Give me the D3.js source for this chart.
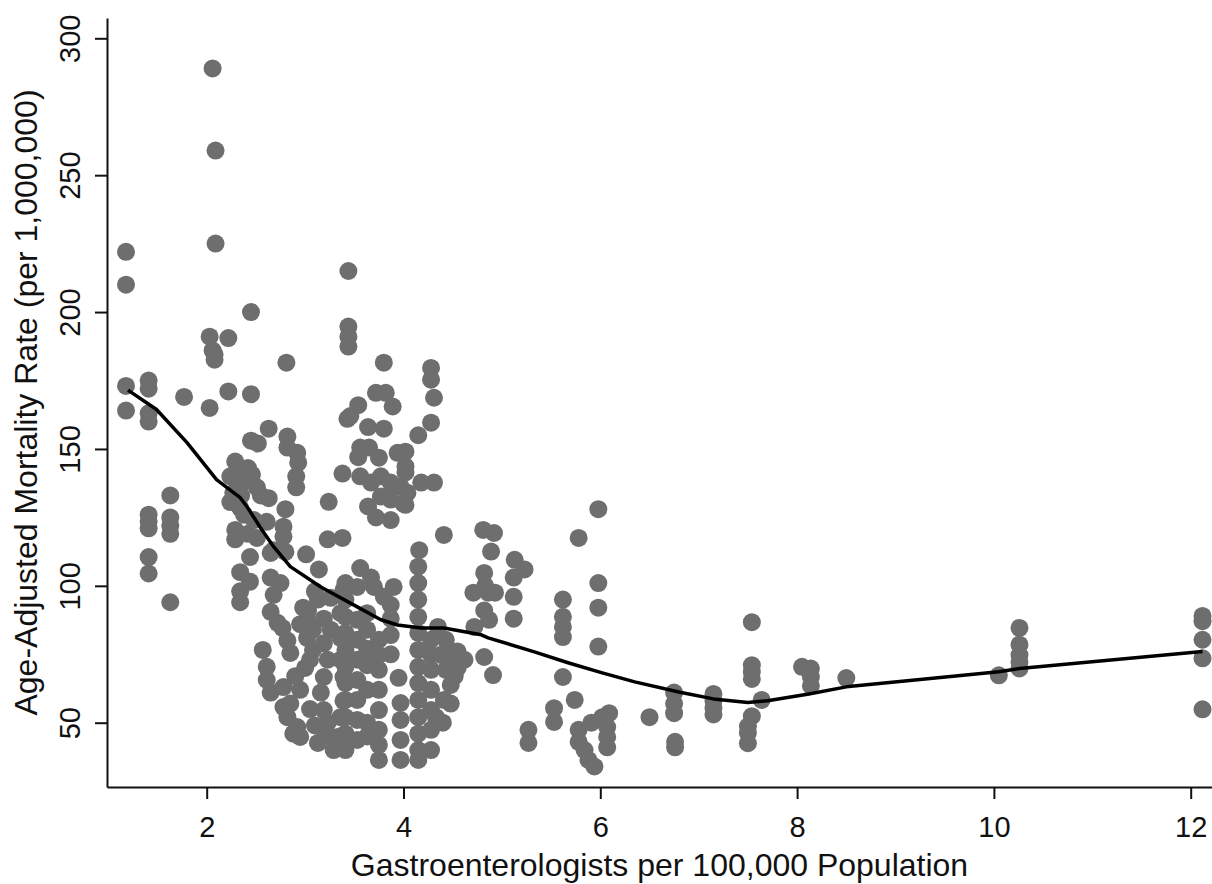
<!DOCTYPE html>
<html>
<head>
<meta charset="utf-8">
<script src="https://cdn.jsdelivr.net/npm/d3@7"></script>
<style>
  body { margin: 0; background: #fff; }
  svg { display: block; font-family: "Liberation Sans", Arial, sans-serif; }
</style>
</head>
<body>
<div id="chart"></div>
<script>
const width = 1212, height = 884;

// gastroenterologists per 100,000 (x) and age-adjusted mortality per 1,000,000 (y)
const gastroRate = [
  1.18,1.18,1.18,1.18,
  1.41,1.41,1.41,1.41,1.41,1.41,1.41,1.41,1.41,
  1.63,1.63,1.63,1.63,1.63, 1.77,
  2.06,2.09,2.09,2.03,2.03,2.06,2.08,2.08,2.22,2.22,2.45,2.45,2.81,
  2.63,2.45,2.52,2.82,2.82,2.92,2.93,2.91,2.91,2.29,2.29,2.29,2.24,2.24,2.46,2.37,2.51,2.51,
  2.63,2.34,2.80,2.61,2.78,2.78,2.42,2.44,2.68,3.01,3.24,3.38,3.38,3.43,3.23,2.27,2.35,2.42,
  2.31,2.38,2.48,2.55,
  2.65,2.80,2.34,2.34,2.34,2.44,2.65,2.65,2.75,2.68,2.72,2.77,3.14,3.03,3.13,3.26,3.26,3.39,
  3.02,3.19,3.36,2.57,2.61,2.61,2.65,2.82,2.85,2.85,2.78,3.02,3.05,3.08,3.19,3.19,3.19,
  3.23,3.23,3.16,3.26,3.29,2.78,2.82,2.92,2.95,3.36,3.36,3.36,3.39,3.39,3.33,2.88,3.13,
  2.95,2.98,3.08,3.10,2.90,2.95,3.05,3.10,3.20,3.00,
  3.44,3.44,3.44,3.44,3.80,4.28,4.28,4.31,3.72,3.82,3.54,3.46,3.89,3.64,3.80,4.28,4.15,
  3.56,3.65,3.54,3.75,3.94,4.02,4.02,4.02,3.56,3.67,3.77,3.77,3.87,3.87,3.87,3.97,4.04,
  4.00,3.64,3.72,4.02,4.18,4.31,4.41,4.16,4.81,4.92,4.89,
  3.41,3.41,3.41,3.41,3.41,3.41,3.41,3.41,3.41,3.41,3.41,
  3.53,3.53,3.53,3.53,3.53,3.53,3.53,3.53, 3.56,3.67,3.70,3.90,3.80,
  3.63,3.63,3.63,3.63,3.63,3.63,3.63,
  3.75,3.75,3.75,3.75,3.75,3.75,3.75,3.75, 3.95, 3.87,3.87,3.87,3.87,
  4.15,4.15,4.15,4.15,4.15,4.15,4.15,4.15,4.15,4.15,4.15,4.15,4.15,
  3.97,3.97,3.97,3.97, 4.28,4.28,4.28,4.28,4.28,4.28,4.28,
  4.38,4.43,4.43,4.48,4.48,4.41,4.55,4.55,4.62,
  4.35,4.45,4.50,4.40,4.33,4.52,
  4.71,4.72,4.86,4.82,4.82,4.82,4.91,4.83,4.93,4.87,
  5.13,5.23,5.12,5.12,5.12,
  5.27,5.27,5.53,5.53,5.62,5.62,5.62,5.62,5.62,5.74,5.78,5.98,5.98,5.98,5.98,
  5.78,5.78,5.84,5.88,5.94,6.02,6.09,6.07,6.07,6.07,5.91,
  6.50,6.75,6.75,6.75,6.76,6.76,7.15,7.15,7.15,7.15,
  7.54,7.54,7.54,7.54,7.54,7.64,7.50,7.50,7.50,8.05,8.14,8.14,8.14,8.50,
  10.05,10.26,10.26,10.26,10.26,10.26,
  12.12,12.12,12.12,12.12,12.12
];
const mortalityRate = [
  222,210,173,164,
  175,172,163,160,126,123.5,121,110.5,104.5,
  133,125,122,119,94, 169,
  289,259,225,191,165,186,182.6,184.5,190.5,171,200,170,181.5,
  157.4,153,152,154.5,150.5,148.6,145,140,136,145.4,120.4,117,140,130.6,140.6,138,136,117.5,
  132,128.5,128,123.4,121.6,118,119,110.5,113,111.5,130.7,141,117.5,161,117,134,133,143,
  141,126,124,133,
  112,112.4,105,98,94,101.5,103,90.5,101,96.7,86.5,84.6,106,91,95,95.6,84,98.5,
  87.6,88,90,76.6,70.4,65.6,61,80,75.5,57,63,81,73,76.6,79,66.7,54.6,
  73,50,61,44.8,40,55.7,52,48.4,44.8,81,73,52,66.7,58,44.8,46,42.6,
  86,92,84,98,67,62,55,49,46,70,
  215,194.7,191,187.4,181.5,179.6,175.3,168.7,170.5,170.5,166,162,165.5,158,157.4,159.6,155,
  150.5,150.5,147,146.8,148.6,149,143.6,141.4,140,137.7,140,132.6,137.7,131.5,124,136.2,134,
  130,129,125,129.6,137.7,137.7,118.6,113,120.4,119.3,112.5,
  101,95,88.7,82.8,76.6,70.4,64.5,58.3,52,46,40,
  99.6,87.6,80.3,73,65.6,58.3,51,43.7, 106.5,103,99.6,99.6,96,
  90,84,77,71,62,50,45,
  80.3,74.8,69.3,62,54.6,47.4,41.9,36.4, 66.4, 93,88,82,75,
  107,101,95,88.7,82.8,76.6,70.4,64.5,58.3,52,46,40,36.4,
  57.2,51,43.7,36.4, 80.3,74.8,69.3,62,54.6,47.4,40,
  74.8,69.3,80.3,63.8,57,58.3,76,70,73,
  85,77,72,50,52,67,
  97.5,85,97.5,104.7,91,74,67.4,100,97.5,87.6,
  109.5,106,103,96,88,
  47.4,42.6,55.3,50.3,95,88.7,85,81.3,66.7,58.3,117.5,128,101,92,77.8,
  47.4,43,40,36.4,34,52,53.5,48.4,44.8,41,50,
  52,61,57,53.5,43,41,60.5,58,55.5,53,
  86.7,71,68.5,66,52.4,58.3,48.7,46.2,42.5,70.4,69.8,66.7,63.5,66.3,
  67.3,84.6,78.5,74.7,72.2,69.8,
  89,87.1,80.3,73.5,54.9
];

// lowess smoother
const lowessX = [1.20,1.49,1.80,2.10,2.34,2.41,2.54,2.68,2.85,3.16,3.53,3.77,3.94,4.18,4.41,4.79,4.86,5.33,5.68,6.02,6.35,6.81,7.15,7.50,7.70,8.12,8.50,10.05,10.26,12.12];
const lowessY = [171.5,164.4,152.3,138.8,132.2,128.9,121.6,114.3,107,99.6,92.3,87.6,85.7,84.6,84.6,82.1,81,75.9,71.8,68.2,64.9,61.1,58.7,57.4,58,60.5,63.1,68.6,69.8,76];

const xTicks = [2, 4, 6, 8, 10, 12];
const yTicks = [50, 100, 150, 200, 250, 300];

const svg = d3.select("#chart").append("svg")
  .attr("width", width)
  .attr("height", height);

const plotLeft = 107, plotRight = 1212, plotTop = 18, plotBottom = 787;

const x = d3.scaleLinear()
  .domain([(plotLeft - 9.9) / 98.4, (plotRight - 9.9) / 98.4])
  .range([plotLeft, plotRight]);
const y = d3.scaleLinear()
  .domain([50 - (plotBottom - 722.7) / 2.738, 300 + (38.3 - plotTop) / 2.738])
  .range([plotBottom, plotTop]);

// points
const data = gastroRate.map((g, i) => ({g: g, m: mortalityRate[i]}));
svg.append("g")
  .selectAll("circle")
  .data(data)
  .enter().append("circle")
    .attr("cx", d => x(d.g))
    .attr("cy", d => y(d.m))
    .attr("r", 9)
    .attr("fill", "#6e6e6e");

// smoother line
const line = d3.line()
  .x((d, i) => x(lowessX[i]))
  .y(d => y(d));
svg.append("path")
  .attr("d", line(lowessY))
  .attr("fill", "none")
  .attr("stroke", "#000")
  .attr("stroke-width", 3.5)
  .attr("stroke-linejoin", "round");

// axes
const xAxis = svg.append("g")
  .attr("transform", `translate(0, ${plotBottom})`)
  .call(d3.axisBottom(x).tickValues(xTicks).tickSize(12).tickSizeOuter(0));
const yAxis = svg.append("g")
  .attr("transform", `translate(${plotLeft}, 0)`)
  .call(d3.axisLeft(y).tickValues(yTicks).tickSize(12).tickSizeOuter(0));

[xAxis, yAxis].forEach(a => {
  a.select(".domain").attr("stroke", "#111").attr("stroke-width", 2);
  a.selectAll(".tick line").attr("stroke", "#111").attr("stroke-width", 2);
  a.selectAll("text").attr("fill", "#111").style("font-size", "29px")
    .style("font-family", "'Liberation Sans', Arial, sans-serif");
});

xAxis.selectAll("text")
  .attr("y", 0).attr("dy", 0)
  .attr("transform", "translate(0, 50)");

yAxis.selectAll("text")
  .attr("x", 0).attr("dy", 0)
  .attr("text-anchor", "middle")
  .attr("transform", "translate(-27, 0) rotate(-90)");

// titles
svg.append("text")
  .attr("x", (plotLeft + plotRight) / 2)
  .attr("y", 876)
  .attr("text-anchor", "middle")
  .style("font-size", "32px")
  .attr("fill", "#111")
  .text("Gastroenterologists per 100,000 Population");

svg.append("text")
  .attr("transform", `translate(37, ${(plotTop + plotBottom) / 2}) rotate(-90)`)
  .attr("text-anchor", "middle")
  .style("font-size", "32px")
  .attr("fill", "#111")
  .text("Age-Adjusted Mortality Rate (per 1,000,000)");
</script>
</body>
</html>
